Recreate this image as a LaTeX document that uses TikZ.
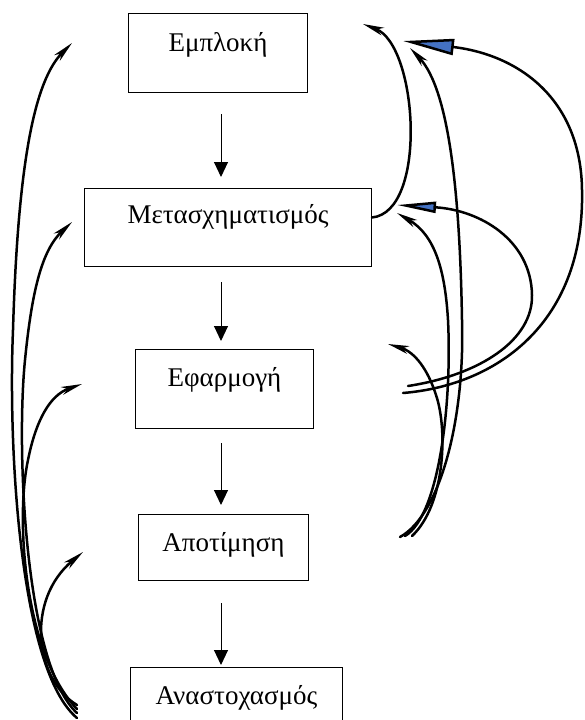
\documentclass[tikz,border=0pt]{standalone}
\usepackage{fontspec}
\setmainfont{Liberation Serif}
\usetikzlibrary{arrows.meta}
\definecolor{tipblue}{RGB}{68,114,196}
\begin{document}
\begin{tikzpicture}[x=1pt,y=-1pt,
  box/.style={draw, line width=1pt, anchor=north west, inner sep=0pt, font=\fontsize{27}{31}\selectfont},
  flow/.style={line width=1pt, -{Triangle[length=15pt,width=14pt]}},
  loopline/.style={line width=2.5pt, line cap=round},
  smallhead/.style={loopline, -{Stealth[length=21pt,width=8pt,inset=6pt,fill=tipblue]}},
  bighead/.style={loopline, -{Triangle[length=51pt,width=16pt,fill=tipblue]}},
  midhead/.style={loopline, -{Triangle[length=39pt,width=11pt,fill=tipblue]}}]
\useasboundingbox (0,0) rectangle (584,720);
% boxes
\node[box, minimum width=179pt, minimum height=79pt, text height=38pt, text depth=41pt] (b1) at (128,13) {Εμπλοκή};
\node[box, minimum width=287pt, minimum height=78pt, text height=35pt, text depth=43pt] (b2) at (84,188) {Μετασχηματισμός};
\node[box, minimum width=178pt, minimum height=79pt, text height=37pt, text depth=42pt] (b3) at (135,349) {Εφαρμογή};
\node[box, minimum width=170pt, minimum height=66pt, text height=37pt, text depth=29pt] (b4) at (138,514) {Αποτίμηση};
\node[box, minimum width=212pt, minimum height=70pt, text height=37pt, text depth=33pt] (b5) at (130,667) {Αναστοχασμός};
% straight arrows
\coordinate (ax) at (221,0);
\draw[flow, shorten <=21pt, shorten >=11pt] (ax |- b1.south) -- (ax |- b2.north);
\draw[flow, shorten <=15pt, shorten >=8pt] (ax |- b2.south) -- (ax |- b3.north);
\draw[flow, shorten <=14pt, shorten >=9pt] (ax |- b3.south) -- (ax |- b4.north);
\draw[flow, shorten <=22pt, shorten >=2pt] (ax |- b4.south) -- (ax |- b5.north);
% left feedback curves
\coordinate (L1e) at (77,718); \coordinate (L1t) at (72,43);
\coordinate (L2e) at (77,713); \coordinate (L2t) at (72,222);
\coordinate (L3e) at (77,709); \coordinate (L3t) at (82,384);
\coordinate (L4e) at (77,705); \coordinate (L4t) at (83,552);
\draw[smallhead] (L1e) .. controls (20,670) and (8,450) .. (13,330) .. controls (18,160) and (35,80) .. (L1t);
\draw[smallhead] (L2e) .. controls (25,665) and (16,450) .. (25,360) .. controls (32,290) and (42,250) .. (L2t);
\draw[smallhead] (L3e) .. controls (25,655) and (15,520) .. (28,460) .. controls (36,420) and (50,395) .. (L3t);
\draw[smallhead] (L4e) .. controls (35,680) and (25,600) .. (L4t);
% right curves
\coordinate (R0t) at (363,24);
\draw[smallhead] ([yshift=10pt]b2.east) .. controls (428,212) and (418,45) .. (R0t);
\coordinate (B1s) at (403,393); \coordinate (B1t) at (403,41);
\draw[bighead] (B1s) .. controls (500,385) and (585,320) .. (582,190) .. controls (581,100) and (520,55) .. (B1t);
\coordinate (B2s) at (408,386); \coordinate (B2t) at (397,205);
\draw[midhead] (B2s) .. controls (480,375) and (533,340) .. (532,295) .. controls (531,240) and (480,210) .. (B2t);
\coordinate (C1s) at (400,537); \coordinate (C1t) at (410,48);
\coordinate (C2s) at (405,536); \coordinate (C2t) at (397,213);
\coordinate (C3s) at (412,536); \coordinate (C3t) at (388,344);
\draw[smallhead] (C1s) .. controls (440,515) and (465,420) .. (462,320) .. controls (460,200) and (450,90) .. (C1t);
\draw[smallhead] (C2s) .. controls (440,515) and (452,400) .. (448,320) .. controls (445,270) and (435,235) .. (C2t);
\draw[smallhead] (C3s) .. controls (445,505) and (448,430) .. (436,395) .. controls (428,370) and (415,352) .. (C3t);
\end{tikzpicture}
\end{document}
